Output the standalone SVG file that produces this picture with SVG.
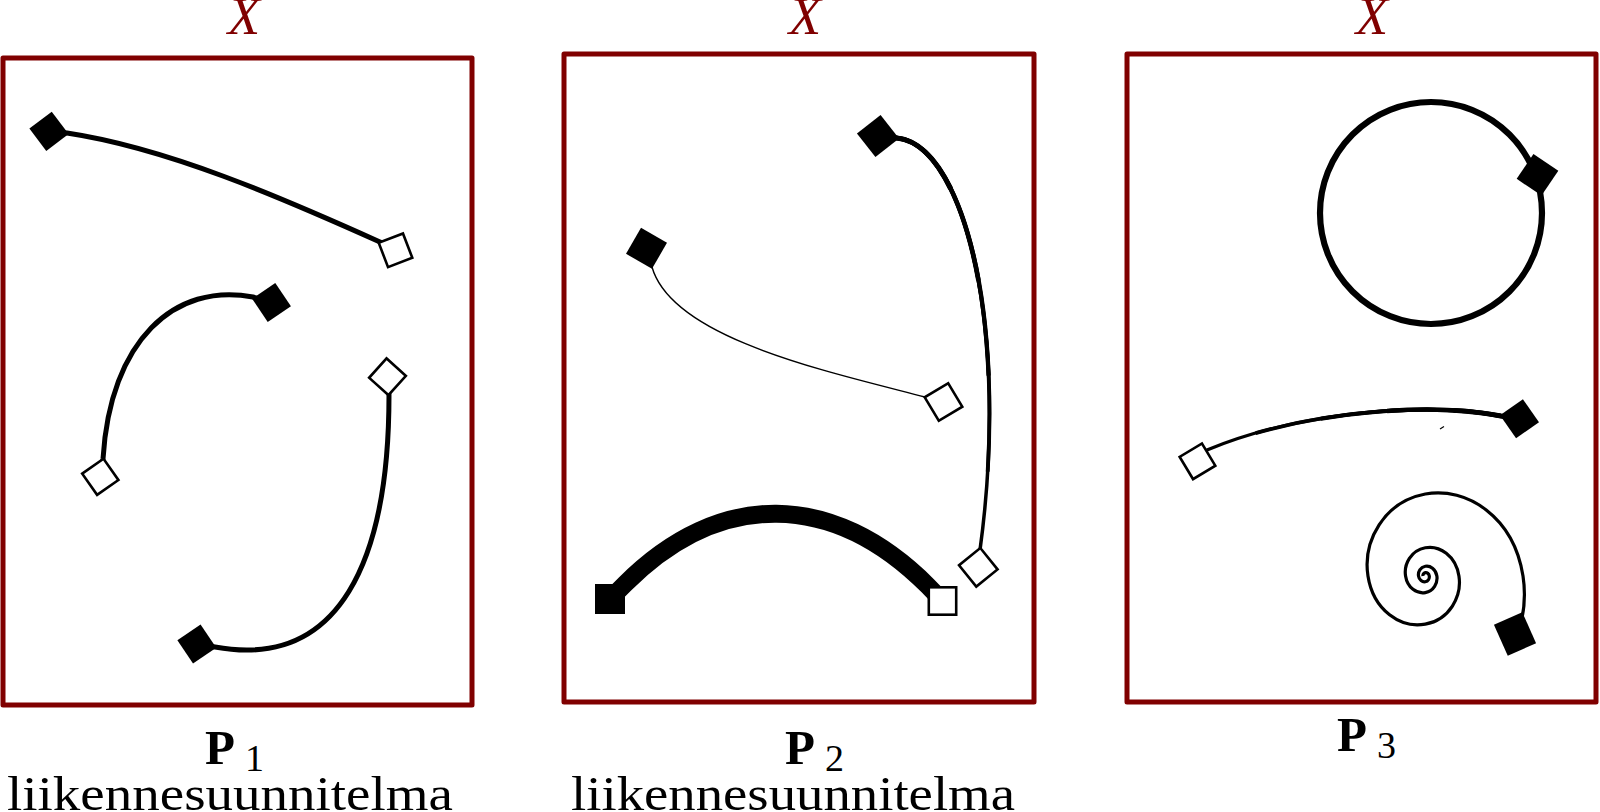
<svg xmlns="http://www.w3.org/2000/svg" xmlns:xlink="http://www.w3.org/1999/xlink" width="1600" height="812" viewBox="0 0 1600 812">
<style>
.frame{fill:none;stroke:#800000;stroke-width:5;stroke-linejoin:round}
.curve{fill:none;stroke:#000;stroke-linecap:butt;stroke-linejoin:round}
.sf{fill:#000}
.so{fill:#fff;stroke:#000;stroke-width:2.6}
.xl{font-family:"Liberation Serif",serif;font-style:italic;font-size:53px;fill:#800000}
.pb{font-family:"Liberation Serif",serif;font-weight:bold;font-size:49px;fill:#000}
.sub{font-family:"Liberation Serif",serif;font-size:38px;fill:#000}
.cap{font-family:"Liberation Serif",serif;font-size:49px;fill:#000}
</style>
<defs>
<rect id="f28" class="sf" x="-14" y="-14" width="28" height="28"/>
<rect id="o28" class="so" x="-13" y="-13" width="26" height="26"/>
<rect id="f30" class="sf" x="-15" y="-15" width="30" height="30"/>
<rect id="o30" class="so" x="-13.7" y="-13.7" width="27.4" height="27.4"/>
<path id="pE" d="M878,136 L897,138 C965,145 1010,330 980,550 L978.3,567.3" pathLength="100"/>
<path id="pG" d="M1519.5,418.8 L1501,416 C1420,400 1290,415 1207,450 L1197.5,461.3" pathLength="100"/>
</defs>
<rect width="1600" height="812" fill="#fff"/>

<g id="panel1">
<rect class="frame" x="3" y="58" width="469" height="647"/>
<text class="xl" x="244" y="34" text-anchor="middle">X</text>
<g id="connectors1">
<path class="curve" stroke-width="5" d="M49,131.3 L67,133 C167,148 280,197 380,242 L395.5,250.3"/>
<path class="curve" stroke-width="5" d="M100.3,476.8 L103,459 C110,340 175,282 253,297 L271.5,302.5"/>
<path class="curve" stroke-width="5" d="M387.5,376.8 L389,395 C389,560 340,670 215,647 L196.8,644"/>
</g>
<g id="n1a"><use xlink:href="#f28" transform="translate(49,131.3) rotate(53)"/></g>
<g id="n1b"><use xlink:href="#o28" transform="translate(395.5,250.3) rotate(69)"/></g>
<g id="n1c"><use xlink:href="#o28" transform="translate(100.3,476.8) rotate(55)"/></g>
<g id="n1d"><use xlink:href="#f28" transform="translate(271.5,302.5) rotate(56)"/></g>
<g id="n1e"><use xlink:href="#o28" transform="translate(387.5,376.8) rotate(42)"/></g>
<g id="n1f"><use xlink:href="#f28" transform="translate(196.8,644) rotate(56)"/></g>
<text class="pb" x="205" y="764">P</text>
<text class="sub" x="245" y="771">1</text>
<text class="cap" x="230" y="810" text-anchor="middle" textLength="446" lengthAdjust="spacingAndGlyphs">liikennesuunnitelma</text>
</g>

<g id="panel2">
<rect class="frame" x="564" y="54" width="470" height="648"/>
<text class="xl" x="805" y="34" text-anchor="middle">X</text>
<g id="connectors2">
<path class="curve" stroke-width="1.4" d="M646.5,248.3 L652,267 C672,338 825,371 925,397 L943.5,402"/>
<use xlink:href="#pE" class="curve" stroke-width="3.5"/>
<use xlink:href="#pE" class="curve" stroke-width="3.9" stroke-dasharray="80 20"/>
<use xlink:href="#pE" class="curve" stroke-width="4.3" stroke-dasharray="60 40"/>
<use xlink:href="#pE" class="curve" stroke-width="4.7" stroke-dasharray="40 60"/>
<use xlink:href="#pE" class="curve" stroke-width="5.1" stroke-dasharray="20 80"/>
<path class="curve" stroke-width="18" d="M610,599 L625,584 C720,489 833,491 928,586 L942.5,601"/>
</g>
<g id="n2a"><use xlink:href="#f30" transform="translate(646.5,248.3) rotate(30)"/></g>
<g id="n2b"><use xlink:href="#o30" transform="translate(943.5,402) rotate(59)"/></g>
<g id="n2c"><use xlink:href="#f30" transform="translate(878,136) rotate(52)"/></g>
<g id="n2d"><use xlink:href="#o30" transform="translate(978.3,567.3) rotate(51)"/></g>
<g id="n2e"><use xlink:href="#f30" transform="translate(610,599)"/></g>
<g id="n2f"><use xlink:href="#o30" transform="translate(942.5,601)"/></g>
<text class="pb" x="785" y="764">P</text>
<text class="sub" x="825" y="771">2</text>
<text class="cap" x="793" y="810" text-anchor="middle" textLength="444" lengthAdjust="spacingAndGlyphs">liikennesuunnitelma</text>
</g>

<g id="panel3">
<rect class="frame" x="1127" y="54" width="469" height="648"/>
<text class="xl" x="1372" y="34" text-anchor="middle">X</text>
<g id="connectors3">
<circle class="curve" stroke-width="6.2" cx="1431" cy="213" r="111"/>
<use xlink:href="#pG" class="curve" stroke-width="3.3"/>
<use xlink:href="#pG" class="curve" stroke-width="3.7" stroke-dasharray="80 20"/>
<use xlink:href="#pG" class="curve" stroke-width="4.1" stroke-dasharray="60 40"/>
<use xlink:href="#pG" class="curve" stroke-width="4.5" stroke-dasharray="40 60"/>
<use xlink:href="#pG" class="curve" stroke-width="4.9" stroke-dasharray="20 80"/>
<path class="curve" stroke-width="1.2" d="M1440,429 L1444,426.5"/>
<path class="curve" stroke-width="3.2" vector-effect="non-scaling-stroke" transform="translate(1425.3,576) scale(1,1.096)" d="M96.3,40.7 C99.54,26.94 99.91,13.02 97.7,0 C88.54,-53.96 41.33,-81.85 0,-74.84 C-41.33,-67.83 -62.70,-31.66 -57.33,0 C-51.96,31.66 -24.25,48.02 0,43.91 C24.25,39.80 36.79,18.58 33.64,0 C30.49,-18.58 14.23,-28.18 0,-25.77 C-14.23,-23.36 -21.59,-10.90 -19.74,0 C-17.89,10.90 -8.35,16.54 0,15.12 C8.35,13.70 12.67,6.40 11.58,0 C10.49,-6.40 4.90,-9.70 0,-8.87 C-4.90,-8.04 -7.44,-3.76 -6.80,0 C-6.16,3.76 -2.88,5.70 0,5.21 C2.88,4.72 4.36,2.20 3.99,0 C3.62,-2.20 1.68,-3.34 0,-3.05 C-1.68,-2.76 -2.56,-1.29 -2.34,0"/>
</g>
<g id="n3a"><use xlink:href="#f30" transform="translate(1537.5,174.8) rotate(34)"/></g>
<g id="n3b"><use xlink:href="#o28" transform="translate(1197.5,461.3) rotate(59)"/></g>
<g id="n3c"><use xlink:href="#f28" transform="translate(1519.5,418.8) rotate(55)"/></g>
<g id="n3d"><rect class="sf" x="-17" y="-15.5" width="34" height="31" transform="translate(1515,634) rotate(66)"/></g>
<text class="pb" x="1337" y="751">P</text>
<text class="sub" x="1377" y="758">3</text>
</g>
</svg>
